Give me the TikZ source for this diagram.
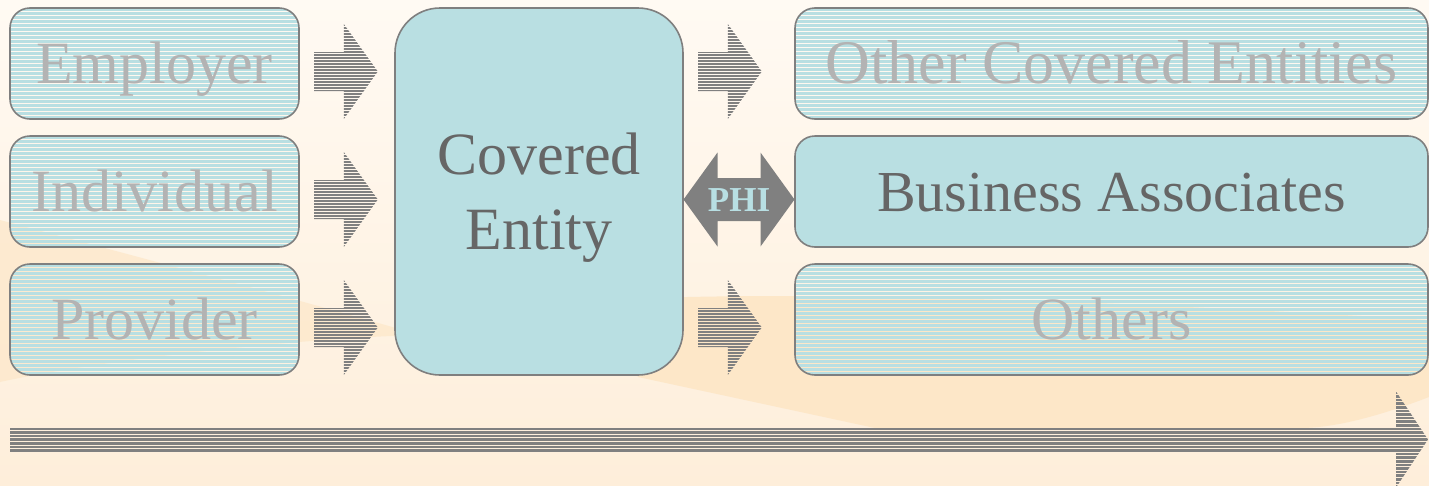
\documentclass[tikz,border=0pt]{standalone}
\usepackage{fontspec}
\setmainfont{Liberation Serif}
\usetikzlibrary{calc}

\definecolor{boxblue}{HTML}{B9DFE2}
\definecolor{edgegray}{HTML}{7F7F7F}
\definecolor{fadetext}{HTML}{B3B3B3}
\definecolor{darktext}{HTML}{666666}
\definecolor{arrowgray}{HTML}{808080}
\definecolor{phiblue}{HTML}{B8DFE3}
\definecolor{bgtop}{HTML}{FFFAF3}
\definecolor{bgbot}{HTML}{FEEEDA}
\definecolor{hill}{HTML}{FDE7C8}

\tikzset{
  pics/flowarrow/.style={code={
    \begin{scope}
      \clip (0,-19.5) -- (30,-19.5) -- (30,-47.5) -- (64,0) -- (30,47.5) -- (30,19.5) -- (0,19.5) -- cycle;
      \foreach \k in {0,...,31}
        \fill[arrowgray] (0,-47.5+\k*3) rectangle (64,-47.5+\k*3+2.2);
    \end{scope}
  }}
}

\begin{document}
\begin{tikzpicture}[x=1pt,y=-1pt,
    lanebox/.style={draw=edgegray, line width=1.6pt, rounded corners=20pt,
      minimum width=289pt, minimum height=111pt, inner sep=0pt,
      font=\fontsize{60}{75}\selectfont, text height=40pt, text depth=0pt},
    fadebox/.style={lanebox, text=fadetext,
      path picture={\foreach \k in {0,...,29}
        \fill[boxblue, sharp corners] ([yshift=-\k*4pt]path picture bounding box.north west)
          rectangle ([yshift=-\k*4pt-3pt]path picture bounding box.north east);}},
    fullbox/.style={lanebox, fill=boxblue, text=darktext}]

  \useasboundingbox (0,0) rectangle (1429,485);

  % background
  \fill[top color=bgtop, bottom color=bgbot] (0,0) rectangle (1429,485);
  \fill[hill, fill opacity=0.7] (0,220) .. controls (150,260) and (300,300) .. (420,335)
    .. controls (300,338) and (100,360) .. (0,382) -- cycle;
  \fill[hill] (600,300) .. controls (800,290) and (1100,300) .. (1429,320)
    -- (1429,397) .. controls (1390,412) and (1340,428) .. (1300,428)
    -- (875,428) -- (638,377) -- cycle;

  % boxes
  \node[fadebox] (employer) at (154.5,63.5) {Employer};
  \node[fadebox] (individual) at (154.5,191.5) {Individual};
  \node[fadebox] (provider) at (154.5,319.5) {Provider};

  \node[fullbox, minimum width=288pt, minimum height=367pt, rounded corners=45pt,
    align=center, text height=115pt, text depth=0pt] (ce) at (539,191.5) {Covered\\Entity};

  \node[fadebox, minimum width=633pt, font=\fontsize{62}{75}\selectfont] (other) at (1111.5,63.5) {Other Covered Entities};
  \node[fullbox, minimum width=633pt, font=\fontsize{58}{75}\selectfont] (ba) at (1111.5,191.5) {Business Associates};
  \node[fadebox, minimum width=633pt] (others) at (1111.5,319.5) {Others};

  % block arrows
  \pic at ($(employer.east)+(14,8)$) {flowarrow};
  \pic at ($(individual.east)+(14,8)$) {flowarrow};
  \pic at ($(provider.east)+(14,8)$) {flowarrow};
  \pic at ($(ce.east |- other.west)+(14,8)$) {flowarrow};
  \pic at ($(ce.east |- others.west)+(14,8)$) {flowarrow};

  % PHI exchange
  \coordinate (phimid) at ($(ce.east |- ba.west)!0.5!(ba.west)+(0,8)$);
  \begin{scope}[shift={(phimid)}]
    \fill[arrowgray] (-55.5,0) -- (-21.5,-47) -- (-21.5,-21.5) -- (21.5,-21.5) -- (21.5,-47)
      -- (55.5,0) -- (21.5,47) -- (21.5,21.5) -- (-21.5,21.5) -- (-21.5,47) -- cycle;
  \end{scope}
  \node[text=phiblue, inner sep=0pt, font=\bfseries\fontsize{35}{40}\selectfont,
    text height=23pt, text depth=0pt] (phi) at (phimid) {PHI};

  % timeline
  \coordinate (tlstart) at (10,439.5);
  \coordinate (tlend) at (1428,439.5);
  \begin{scope}
    \clip ($(tlstart)+(0,-12.5)$) -- ($(tlend)+(-32,-12.5)$) -- ($(tlend)+(-32,-48)$) -- (tlend)
      -- ($(tlend)+(-32,48)$) -- ($(tlend)+(-32,12.5)$) -- ($(tlstart)+(0,12.5)$) -- cycle;
    \foreach \k in {0,...,26}
      \fill[arrowgray] (0,391.5+\k*3.6) rectangle (1429,391.5+\k*3.6+2.7);
  \end{scope}
\end{tikzpicture}
\end{document}
